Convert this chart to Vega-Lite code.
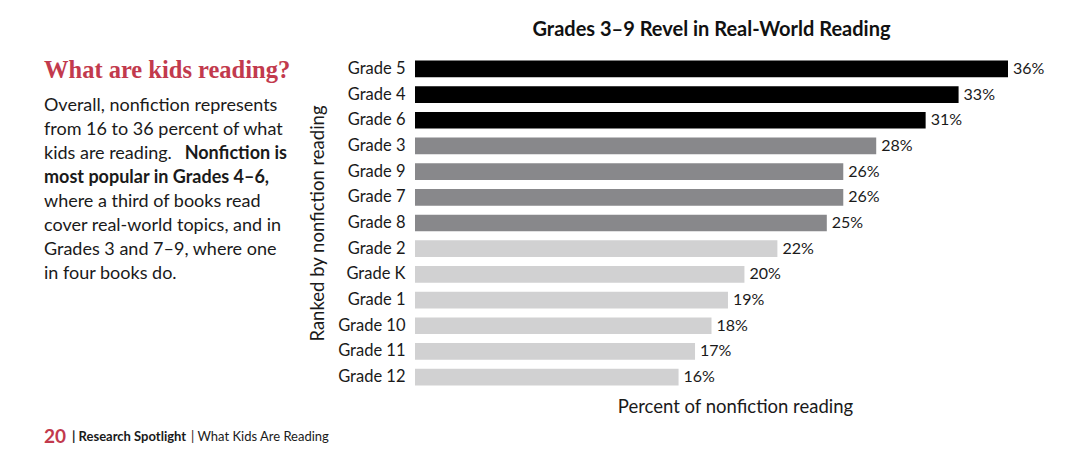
{
  "$schema": "https://vega.github.io/schema/vega-lite/v6.json",
  "background": "white",
  "padding": {"left": 44, "top": 20, "right": 20, "bottom": 10},
  "bounds": "flush",
  "spacing": 128,
  "config": {"view": {"stroke": null}, "font": "Lato"},
  "datasets": {
    "heading": [{"line": 0, "text": "What are kids reading?"}],
    "paragraph": [
      {"line": 1, "text": "Overall, nonfiction represents"},
      {"line": 2, "text": "from 16 to 36 percent of what"},
      {"line": 3, "text": "kids are reading.", "boldEnd": "Nonfiction is"},
      {"line": 4, "boldStart": "most popular in Grades 4–6,"},
      {"line": 5, "text": "where a third of books read"},
      {"line": 6, "text": "cover real-world topics, and in"},
      {"line": 7, "text": "Grades 3 and 7–9, where one"},
      {"line": 8, "text": "in four books do."}
    ],
    "footer": [{"page": "20", "section": "| Research Spotlight", "topic": "| What Kids Are Reading"}],
    "grades": [
      {"grade": "Grade 5", "share": 0.36, "tier": "top"},
      {"grade": "Grade 4", "share": 0.33, "tier": "top"},
      {"grade": "Grade 6", "share": 0.31, "tier": "top"},
      {"grade": "Grade 3", "share": 0.28, "tier": "middle"},
      {"grade": "Grade 9", "share": 0.26, "tier": "middle"},
      {"grade": "Grade 7", "share": 0.26, "tier": "middle"},
      {"grade": "Grade 8", "share": 0.25, "tier": "middle"},
      {"grade": "Grade 2", "share": 0.22, "tier": "lower"},
      {"grade": "Grade K", "share": 0.20, "tier": "lower"},
      {"grade": "Grade 1", "share": 0.19, "tier": "lower"},
      {"grade": "Grade 10", "share": 0.18, "tier": "lower"},
      {"grade": "Grade 11", "share": 0.17, "tier": "lower"},
      {"grade": "Grade 12", "share": 0.16, "tier": "lower"}
    ]
  },
  "hconcat": [
    {
      "width": 243,
      "height": 381,
      "layer": [
        {
          "data": {"name": "heading"},
          "mark": {"type": "text", "x": 0, "align": "left", "baseline": "alphabetic", "dy": -4, "font": "Liberation Serif", "fontWeight": "bold", "fontSize": 24.5, "color": "#c23a4d"},
          "encoding": {
            "y": {"field": "line", "type": "ordinal", "scale": {"type": "point", "padding": 0, "domain": [0, 1, 2, 3, 4, 5, 6, 7, 8], "range": [26, 218]}, "axis": null},
            "text": {"field": "text"}
          }
        },
        {
          "data": {"name": "paragraph"},
          "transform": [{"filter": "isValid(datum.text)"}],
          "mark": {"type": "text", "x": 0, "align": "left", "baseline": "middle", "fontSize": 18, "color": "#1a1a1a"},
          "encoding": {
            "y": {"field": "line", "type": "ordinal", "axis": null},
            "text": {"field": "text"}
          }
        },
        {
          "data": {"name": "paragraph"},
          "transform": [{"filter": "isValid(datum.boldEnd)"}],
          "mark": {"type": "text", "x": "width", "align": "right", "baseline": "middle", "fontSize": 18, "fontWeight": "bold", "color": "#1a1a1a"},
          "encoding": {
            "y": {"field": "line", "type": "ordinal", "axis": null},
            "text": {"field": "boldEnd"}
          }
        },
        {
          "data": {"name": "paragraph"},
          "transform": [{"filter": "isValid(datum.boldStart)"}],
          "mark": {"type": "text", "x": 0, "align": "left", "baseline": "middle", "fontSize": 18, "fontWeight": "bold", "color": "#1a1a1a"},
          "encoding": {
            "y": {"field": "line", "type": "ordinal", "axis": null},
            "text": {"field": "boldStart"}
          }
        },
        {
          "data": {"name": "footer"},
          "mark": {"type": "text", "x": 0, "y": "height", "align": "left", "baseline": "middle", "fontSize": 19, "fontWeight": "bold", "color": "#c23a4d"},
          "encoding": {"text": {"field": "page"}}
        },
        {
          "data": {"name": "footer"},
          "mark": {"type": "text", "x": 0, "y": "height", "dx": 28, "align": "left", "baseline": "middle", "fontSize": 13, "fontWeight": "bold", "color": "#1a1a1a"},
          "encoding": {"text": {"field": "section"}}
        },
        {
          "data": {"name": "footer"},
          "mark": {"type": "text", "x": 0, "y": "height", "dx": 147, "align": "left", "baseline": "middle", "fontSize": 13, "color": "#1a1a1a"},
          "encoding": {"text": {"field": "topic"}}
        }
      ]
    },
    {
      "width": 593,
      "height": 334,
      "title": {"text": "Grades 3–9 Revel in Real-World Reading", "fontSize": 20, "fontWeight": "bold", "color": "#111111", "anchor": "middle", "offset": 16},
      "data": {"name": "grades"},
      "encoding": {
        "y": {
          "field": "grade",
          "type": "nominal",
          "sort": null,
          "scale": {"paddingInner": 0.35, "paddingOuter": 0.175},
          "axis": {"title": "Ranked by nonfiction reading", "titleFontSize": 18.5, "titleFontWeight": "normal", "titleColor": "#1a1a1a", "titlePadding": 10, "labelFontSize": 16.5, "labelColor": "#1a1a1a", "labelPadding": 10, "ticks": false, "domain": false}
        },
        "x": {
          "field": "share",
          "type": "quantitative",
          "scale": {"domain": [0, 0.36]},
          "axis": {"title": "Percent of nonfiction reading", "labels": false, "ticks": false, "domain": false, "grid": false, "titleFontSize": 18.5, "titleFontWeight": "normal", "titleColor": "#1a1a1a", "titleX": 320, "titleAlign": "center", "titlePadding": 7}
        }
      },
      "layer": [
        {
          "mark": {"type": "bar"},
          "encoding": {
            "color": {"field": "tier", "type": "nominal", "scale": {"domain": ["top", "middle", "lower"], "range": ["#000000", "#88888b", "#d1d1d2"]}, "legend": null}
          }
        },
        {
          "mark": {"type": "text", "align": "left", "baseline": "middle", "dx": 5, "fontSize": 16, "color": "#1a1a1a"},
          "encoding": {"text": {"field": "share", "type": "quantitative", "format": ".0%"}}
        }
      ]
    }
  ]
}
